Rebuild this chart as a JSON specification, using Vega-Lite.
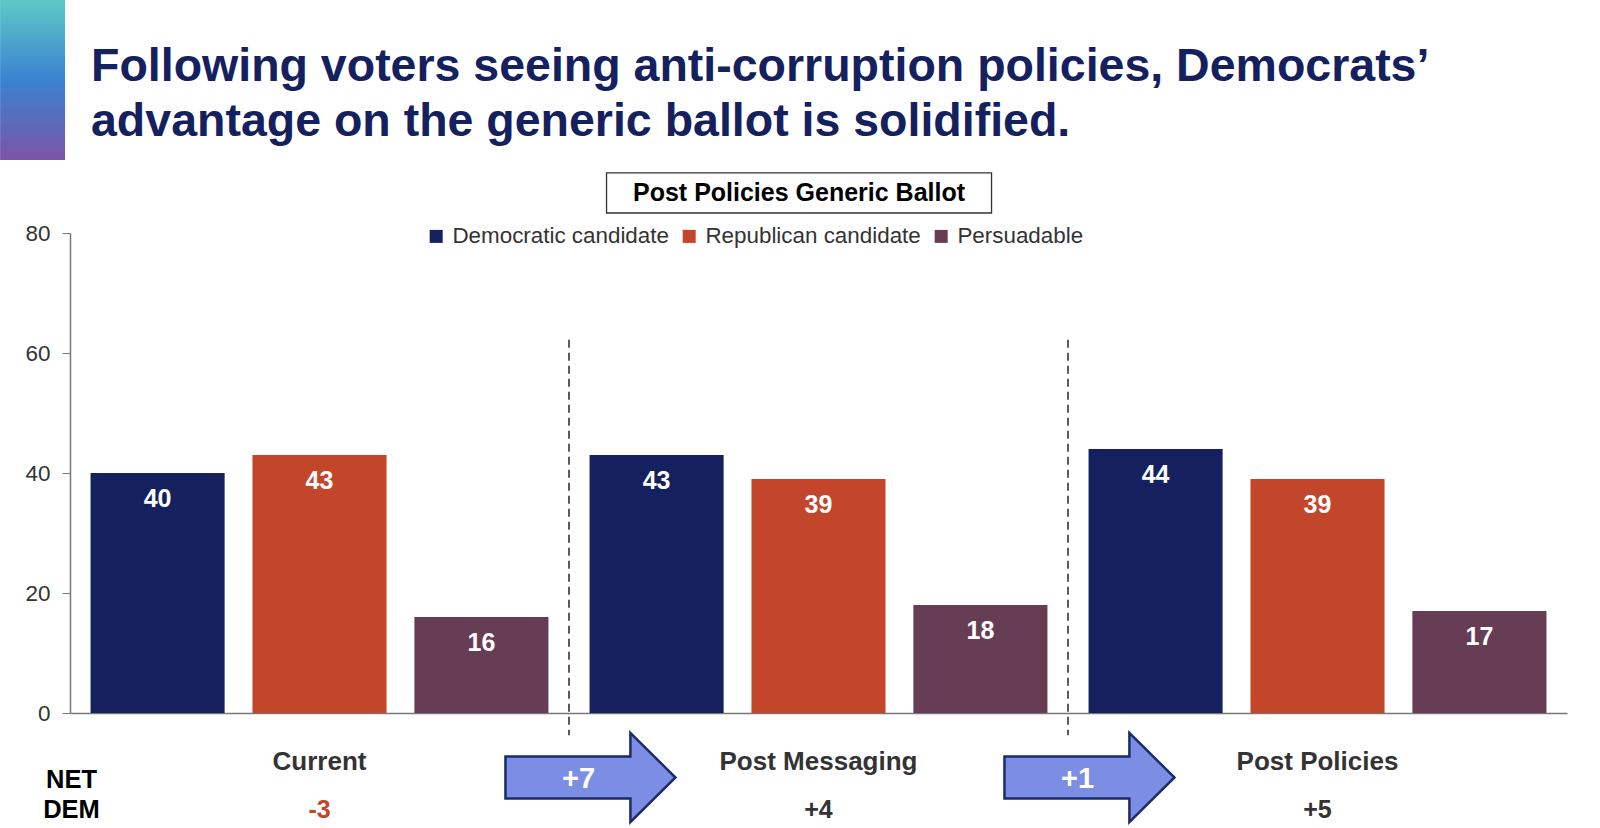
{
  "$schema": "https://vega.github.io/schema/vega-lite/v6.json",
  "width": 1497,
  "height": 480,
  "autosize": {"type": "none"},
  "padding": {"left": 70, "top": 233, "right": 33, "bottom": 115},
  "background": "white",
  "config": {
    "view": {"stroke": null},
    "font": "Liberation Sans",
    "locale": {"number": {"decimal": ".", "thousands": ",", "grouping": [3], "currency": ["$", ""], "minus": "-"}}
  },
  "title": {
    "text": ["Following voters seeing anti-corruption policies, Democrats’", "advantage on the generic ballot is solidified."],
    "anchor": "start",
    "frame": "group",
    "dx": 21,
    "offset": -145,
    "fontSize": 46.5,
    "fontWeight": "bold",
    "color": "#15215F",
    "lineHeight": 55,
    "font": "Liberation Sans"
  },
  "datasets": {
    "bars": [
      {"stage": "Current", "party": "Democratic candidate", "value": 40},
      {"stage": "Current", "party": "Republican candidate", "value": 43},
      {"stage": "Current", "party": "Persuadable", "value": 16},
      {"stage": "Post Messaging", "party": "Democratic candidate", "value": 43},
      {"stage": "Post Messaging", "party": "Republican candidate", "value": 39},
      {"stage": "Post Messaging", "party": "Persuadable", "value": 18},
      {"stage": "Post Policies", "party": "Democratic candidate", "value": 44},
      {"stage": "Post Policies", "party": "Republican candidate", "value": 39},
      {"stage": "Post Policies", "party": "Persuadable", "value": 17}
    ],
    "net": [
      {"stage": "Current", "net": -3},
      {"stage": "Post Messaging", "net": 4},
      {"stage": "Post Policies", "net": 5}
    ],
    "shifts": [
      {"stage": "Post Messaging", "shift": 7},
      {"stage": "Post Policies", "shift": 1}
    ],
    "boxed": [
      {"stage": "Post Messaging", "label": "Post Policies Generic Ballot"}
    ],
    "rowlabel": [
      {"stage": "Current", "label": "NET\nDEM"}
    ]
  },
  "layer": [
    {
      "data": {"name": "bars"},
      "mark": {"type": "bar"},
      "encoding": {
        "x": {"field": "stage", "type": "nominal", "sort": ["Current", "Post Messaging", "Post Policies"],
          "scale": {"paddingInner": 0, "paddingOuter": 0},
          "axis": {"title": null, "labelAngle": 0, "ticks": false, "domainColor": "#777", "domainWidth": 1.5, "labelFontSize": 26, "labelFontWeight": "bold", "labelColor": "#333", "labelPadding": 35, "labelLimit": 500, "grid": false}},
        "xOffset": {"field": "party", "type": "nominal", "sort": ["Democratic candidate", "Republican candidate", "Persuadable"],
          "scale": {"paddingInner": 0.172, "paddingOuter": 0.127}},
        "y": {"field": "value", "type": "quantitative", "scale": {"domain": [0, 80], "nice": false},
          "axis": {"title": null, "values": [0, 20, 40, 60, 80], "grid": false, "ticks": true, "tickSize": 8, "tickColor": "#777", "domainColor": "#777", "domainWidth": 1.5, "labelFontSize": 22.5, "labelColor": "#333", "labelPadding": 12}},
        "color": {"field": "party", "type": "nominal",
          "scale": {"domain": ["Democratic candidate", "Republican candidate", "Persuadable"], "range": ["#15215F", "#C4462A", "#673D55"]},
          "legend": {"orient": "none", "legendX": 355, "legendY": -8, "direction": "horizontal", "title": null, "symbolType": "square", "symbolSize": 169, "symbolStrokeWidth": 0, "labelFontSize": 22.4, "labelColor": "#333", "columnPadding": 9, "labelOffset": 5, "labelLimit": 400}}
      }
    },
    {
      "data": {"name": "bars"},
      "mark": {"type": "text", "dy": 26, "baseline": "middle", "color": "white", "fontWeight": "bold", "fontSize": 25},
      "encoding": {
        "x": {"field": "stage", "type": "nominal", "title": null, "sort": ["Current", "Post Messaging", "Post Policies"]},
        "xOffset": {"field": "party", "type": "nominal", "sort": ["Democratic candidate", "Republican candidate", "Persuadable"]},
        "y": {"field": "value", "type": "quantitative", "title": null, "scale": {"domain": [0, 80], "nice": false}},
        "text": {"field": "value", "type": "quantitative"}
      }
    },
    {
      "data": {"name": "rowlabel"},
      "mark": {"type": "point", "shape": "M-0.406,-1H0.406V1H-0.406Z", "size": 25600, "filled": true, "opacity": 1, "strokeWidth": 0,
        "fill": {"gradient": "linear", "x1": 0, "y1": 0, "x2": 0, "y2": 1, "stops": [{"offset": 0, "color": "#5EC9C6"}, {"offset": 0.5, "color": "#3A82D0"}, {"offset": 1, "color": "#7B55A8"}]}},
      "encoding": {
        "x": {"field": "stage", "type": "nominal", "title": null, "bandPosition": -0.075, "sort": ["Current", "Post Messaging", "Post Policies"]},
        "y": {"datum": 105.5, "type": "quantitative", "scale": {"domain": [0, 80], "nice": false}}
      }
    },
    {
      "data": {"name": "shifts"},
      "mark": {"type": "rule", "strokeDash": [8, 5], "color": "#333", "strokeWidth": 1.6},
      "encoding": {
        "x": {"field": "stage", "type": "nominal", "title": null, "bandPosition": 0, "sort": ["Current", "Post Messaging", "Post Policies"]},
        "y": {"datum": 62.2, "type": "quantitative", "scale": {"domain": [0, 80], "nice": false}},
        "y2": {"datum": -3.7}
      }
    },
    {
      "data": {"name": "shifts"},
      "mark": {"type": "point", "shape": "M-1,-0.247L0.47,-0.247L0.47,-0.524L1,0L0.47,0.524L0.47,0.247L-1,0.247Z", "size": 28900, "filled": true, "opacity": 1, "fill": "#7B8EE3", "stroke": "#1C2A6B", "strokeWidth": 2.5},
      "encoding": {
        "x": {"field": "stage", "type": "nominal", "title": null, "bandPosition": 0.043, "sort": ["Current", "Post Messaging", "Post Policies"]},
        "y": {"datum": -10.75, "type": "quantitative", "scale": {"domain": [0, 80], "nice": false}}
      }
    },
    {
      "data": {"name": "shifts"},
      "mark": {"type": "text", "baseline": "middle", "align": "center", "color": "white", "fontWeight": "bold", "fontSize": 29},
      "encoding": {
        "x": {"field": "stage", "type": "nominal", "title": null, "bandPosition": 0.019, "sort": ["Current", "Post Messaging", "Post Policies"]},
        "y": {"datum": -11, "type": "quantitative", "scale": {"domain": [0, 80], "nice": false}},
        "text": {"field": "shift", "type": "quantitative", "format": "+d"}
      }
    },
    {
      "data": {"name": "net"},
      "mark": {"type": "text", "baseline": "middle", "align": "center", "fontWeight": "bold", "fontSize": 25},
      "encoding": {
        "x": {"field": "stage", "type": "nominal", "title": null, "sort": ["Current", "Post Messaging", "Post Policies"]},
        "y": {"datum": -16.1, "type": "quantitative", "scale": {"domain": [0, 80], "nice": false}},
        "text": {"field": "net", "type": "quantitative", "format": "+d"},
        "color": {"condition": {"test": "datum.net < 0", "value": "#C4462A"}, "value": "#333333"}
      }
    },
    {
      "data": {"name": "rowlabel"},
      "mark": {"type": "text", "baseline": "middle", "align": "center", "fontWeight": "bold", "fontSize": 25.5, "color": "black", "lineBreak": "\n", "lineHeight": 30},
      "encoding": {
        "x": {"field": "stage", "type": "nominal", "title": null, "bandPosition": 0.003, "sort": ["Current", "Post Messaging", "Post Policies"]},
        "y": {"datum": -11.2, "type": "quantitative", "scale": {"domain": [0, 80], "nice": false}},
        "text": {"field": "label", "type": "nominal"}
      }
    },
    {
      "data": {"name": "boxed"},
      "mark": {"type": "point", "shape": "M-1,-0.104H1V0.104H-1Z", "size": 148225, "filled": false, "opacity": 1, "stroke": "#333", "strokeWidth": 1.3},
      "encoding": {
        "x": {"field": "stage", "type": "nominal", "title": null, "bandPosition": 0.461, "sort": ["Current", "Post Messaging", "Post Policies"]},
        "y": {"datum": 86.67, "type": "quantitative", "scale": {"domain": [0, 80], "nice": false}}
      }
    },
    {
      "data": {"name": "boxed"},
      "mark": {"type": "text", "baseline": "middle", "align": "center", "fontWeight": "bold", "fontSize": 25, "color": "black"},
      "encoding": {
        "x": {"field": "stage", "type": "nominal", "title": null, "bandPosition": 0.461, "sort": ["Current", "Post Messaging", "Post Policies"]},
        "y": {"datum": 86.67, "type": "quantitative", "scale": {"domain": [0, 80], "nice": false}},
        "text": {"field": "label", "type": "nominal"}
      }
    }
  ]
}
